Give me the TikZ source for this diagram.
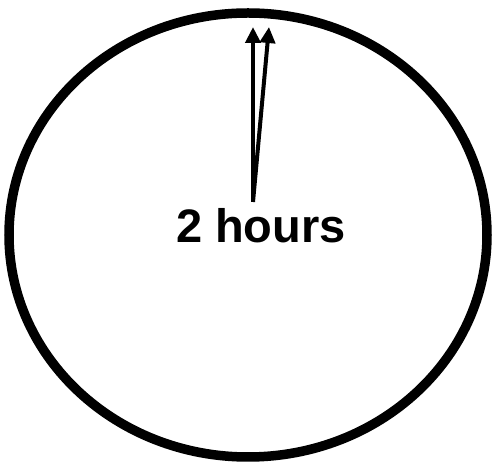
\documentclass[tikz,border=0pt]{standalone}
\usepackage{fontspec}
\setmainfont{Liberation Sans}
\usetikzlibrary{arrows.meta}
\begin{document}
\begin{tikzpicture}[x=1pt,y=1pt,
  hand/.style={line width=4pt,-{Triangle[length=16pt,width=15pt]}},
  rim/.style={line width=9.5pt}]
\useasboundingbox (0,0) rectangle (496,466);
\coordinate (c) at (248,231);
\draw[rim] (c) ellipse [x radius=239, y radius=222];
\coordinate (base) at (253,264);
\coordinate (tipA) at (253,439);
\coordinate (tipB) at (269,439);
\draw[hand] (base) -- (tipA);
\draw[hand] (base) -- (tipB);
\node[font=\bfseries\fontsize{47}{52}\selectfont, inner sep=0pt] (lbl) at (261,240) {2 hours};
\end{tikzpicture}
\end{document}
